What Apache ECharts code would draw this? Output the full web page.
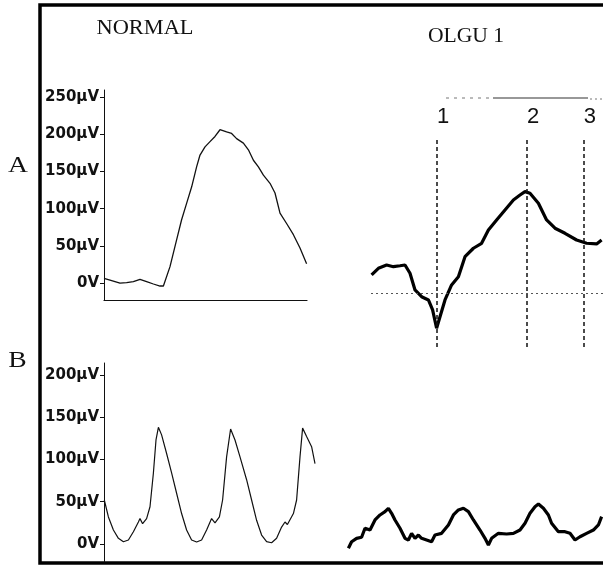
<!DOCTYPE html>
<html>
<head>
<meta charset="utf-8">
<script src="https://cdn.jsdelivr.net/npm/echarts@6/dist/echarts.min.js"></script>
<style>
html,body{margin:0;padding:0;background:#fff;}
#main{width:603px;height:568px;}
</style>
</head>
<body>
<div id="main"></div>
<script>
// traces: [time, µV]
var normalA = [[0,6.3],[3,4],[8,0],[11.3,0.5],[14.7,1.8],[18,5],[21.3,2],[24.7,-1.3],[28,-4],[29.7,-4],
	[33,22],[36.3,58],[38.8,85],[41.3,107],[43.8,129],[46.3,156],[48,172],[50.5,183],[53,190],[55.5,197],
	[58,206],[61.3,203],[63.8,201],[66.3,194],[69.7,188],[72.2,179],[74.7,165],[77.2,156],[79.7,145],
	[83,134],[85.5,121],[88,94],[91.3,80],[94.7,65],[98,47],[101.3,26]];
var normalB = [[0.15,52],[2.2,32],[4.7,16.5],[7.2,6.7],[9.7,2.7],[12.2,4.7],[14.7,14.5],[17.2,26],[18,30],
	[19.3,24],[21.3,30],[23,44],[24.7,84],[26,123],[27.2,138],[28.8,129],[31.3,107],[33.8,84],[36.3,60],
	[38.8,36],[41.3,16.5],[43.8,4.7],[46.3,2.4],[48.8,4.7],[51.3,16.5],[53.8,30],[55.5,25],[57.7,32],
	[59.3,52],[61.3,103],[63.3,136],[65.5,123],[68,103],[71.3,76],[73.8,52],[76.3,28],[78.8,10.6],
	[81.3,2.7],[83.8,1.5],[86.3,6.7],[88.8,20],[90.5,26],[91.7,23],[94.7,36],[96.3,52],[98,103],
	[99.3,137],[101.3,127],[103.8,115],[105.5,95]];
var olguA = [[0.3,24.6],[3.7,33.6],[7.8,38],[11.2,35.7],[14.5,37],[17,38],[19.5,26.9],[22,4.4],[25.3,-4.6],
	[28.7,-9],[30.8,-22.4],[32.8,-47],[34.5,-31.5],[37,-9],[40.3,11.2],[43.7,22.3],[47,49.2],[51.2,60.5],
	[55.3,67.2],[58.7,85],[62.8,98.5],[67,112],[71.2,125.4],[74.5,132],[77,136.6],[79.5,134.4],[83.7,121],
	[87.8,98.5],[92,87.4],[97,80.6],[102.8,71.6],[107.8,67.2],[112.8,66.3],[115.3,71.6]];
var olguB = [[1.7,-5.1],[3.3,2.7],[5.8,6.7],[8.3,7.9],[10,18.6],[12.5,16.5],[15,28.4],[17.5,34.3],[20,38.2],
	[21.7,42.2],[23.3,36.3],[25,28.4],[27.5,18.6],[30,6.7],[31.7,4.7],[33.3,12.6],[35,6.7],[36.7,10.6],
	[38.3,6.7],[40.8,4.7],[43.3,2.7],[45,10.6],[48.3,12.6],[51.7,22.5],[54.2,34.3],[56.7,40.2],[59.2,42.2],
	[61.7,38.2],[64.2,28.4],[67.5,16.5],[70,6.7],[71.7,-1.2],[73.3,6.7],[76.7,12.6],[80.8,11.8],[84.2,12.6],
	[87.5,16.5],[90,24.5],[92.5,36.3],[95,44.1],[96.7,47.3],[99.2,42.2],[101.7,34.3],[103.3,24.5],
	[106.7,14.5],[110,14.5],[112.5,12.6],[115,4.7],[117.5,8.6],[120.8,12.6],[124.2,16.5],[126.7,22.5],
	[128.3,32.3]];
// cursor marks on OLGU 1 (A)
var cursorNames = ['1','2','3'];
var cursorTimes = [32.8, 77.8, 106.2];
var yTicksA = [0,50,100,150,200,250];
var yTicksB = [0,50,100,150,200];

function uv(v){
	return v === 0 ? '0V' : v + 'µV';
}

function yAxisFor(i, min, max, ticks){
	var shown = ticks != null;
	return {
		type:'value', gridIndex:i, min:min, max:max,
		show:shown,
		splitLine:{show:false},
		axisLine:{show:shown, lineStyle:{color:'#111', width:1}},
		axisTick:{show:shown, length:4, lineStyle:{color:'#111'}, customValues:ticks || []},
		axisLabel:{
			show:shown,
			customValues:ticks || [],
			color:'#111',
			fontFamily:'DejaVu Sans',
			fontWeight:'bold',
			fontSize:15,
			margin:5,
			formatter:uv
		}
	};
}

function caption(txt, x, y, size, sx){
	return {type:'text', x:x, y:y, scaleX:sx,
		style:{text:txt, font:size + 'px "Liberation Serif"', fill:'#111',
			textAlign:'center', textVerticalAlign:'middle'}};
}

var markers = cursorTimes.map(function(t, i){
	return {xAxis:t, name:cursorNames[i]};
});

var option = {
	backgroundColor:'#fff',
	animation:false,
	grid:[
		{left:104, top:90, width:203, height:210},
		{left:104, top:363, width:220, height:199},
		{left:371, top:137, width:232, height:210},
		{left:345, top:363, width:258, height:199}
	],
	xAxis:[
		{type:'value', gridIndex:0, min:0, max:101.5,
			axisLine:{show:true, onZero:false, lineStyle:{color:'#111', width:1.2}},
			axisTick:{show:false}, axisLabel:{show:false}, splitLine:{show:false}},
		{type:'value', gridIndex:1, min:0, max:110, show:false},
		{type:'value', gridIndex:2, min:0, max:116, show:false},
		{type:'value', gridIndex:3, min:0, max:129, show:false}
	],
	yAxis:[
		yAxisFor(0, -22.8, 259.4, yTicksA),
		yAxisFor(1, -21.3, 214, yTicksB),
		yAxisFor(2, -72.2, 210, null),
		yAxisFor(3, -21.3, 214, null)
	],
	series:[
		{name:'NORMAL A', type:'line', xAxisIndex:0, yAxisIndex:0, data:normalA,
			symbol:'none', lineStyle:{color:'#111', width:1.3}},
		{name:'NORMAL B', type:'line', xAxisIndex:1, yAxisIndex:1, data:normalB,
			symbol:'none', lineStyle:{color:'#111', width:1.2}},
		{name:'OLGU 1 A', type:'line', xAxisIndex:2, yAxisIndex:2, data:olguA,
			symbol:'none', lineStyle:{color:'#000', width:3.2},
			markLine:{
				silent:true, symbol:'none',
				data:markers.concat([{yAxis:0, name:'',
					lineStyle:{type:[2,3], color:'#555', width:1}, label:{show:false}}]),
				lineStyle:{type:[4,3], color:'#111', width:1.5},
				label:{show:true, position:'end', distance:9, formatter:'{b}',
					fontFamily:'Liberation Sans', fontSize:22, color:'#111', padding:[0,0,0,13]}
			}},
		{name:'OLGU 1 B', type:'line', xAxisIndex:3, yAxisIndex:3, data:olguB,
			symbol:'none', lineStyle:{color:'#000', width:3.2}}
	],
	graphic:[
		// outer frame, right edge falls outside the picture
		{type:'rect', shape:{x:40, y:5, width:620, height:558},
			style:{fill:null, stroke:'#000', lineWidth:3.5}},
		{type:'line', shape:{x1:446, y1:98, x2:493, y2:98},
			style:{stroke:'#777', lineWidth:1, lineDash:[3,5]}},
		{type:'line', shape:{x1:493, y1:98, x2:588, y2:98},
			style:{stroke:'#333', lineWidth:1.2}},
		{type:'line', shape:{x1:590, y1:99, x2:603, y2:99},
			style:{stroke:'#777', lineWidth:1, lineDash:[2,3]}},
		caption('NORMAL', 145, 28.5, 20, 1.12),
		caption('OLGU 1', 466, 36.5, 20, 1.08),
		caption('A', 18, 166, 24, 1.15),
		caption('B', 17.5, 361, 24, 1.15)
	]
};

var myChart = echarts.init(document.getElementById('main'));
myChart.setOption(option);
</script>
</body>
</html>
